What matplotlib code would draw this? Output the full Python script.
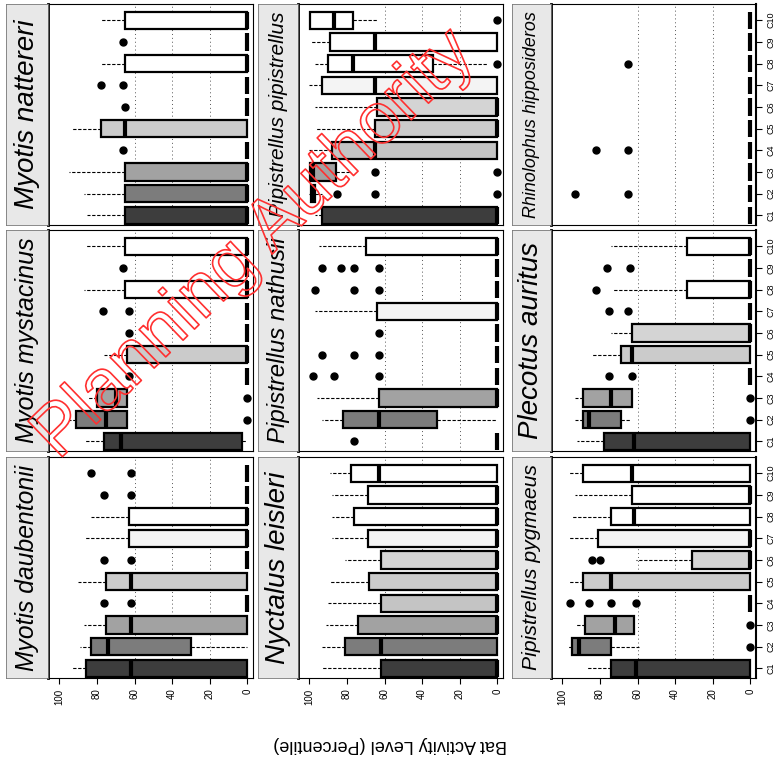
#!/usr/bin/env python3
"""
Bat Activity Level (Percentile) - boxplots per art, 3x3 paneler.
Sidan är vriden 90 grader i originalet, så lådorna ritas liggande
med 100 till vänster och 0 till höger.
"""

import matplotlib
matplotlib.use("Agg")
import matplotlib.pyplot as plt
from matplotlib import patheffects


# DATA

CATEGORIES = ["C1", "C2", "C3", "C4", "C5", "C6", "C7", "C8", "C9", "C10"]

SPECIES = ["Myotis daubentonii", "Myotis mystacinus", "Myotis nattereri",
           "Nyctalus leisleri", "Pipistrellus nathusii", "Pipistrellus pipistrellus",
           "Pipistrellus pygmaeus", "Plecotus auritus", "Rhinolophus hipposideros"]

# Myotis daubentonii
MDAU_Q3 = [86, 83, 75, 0, 75, 0, 63, 63, 0, 0]
MDAU_MED = [62, 74, 62, 0, 62, 0, 0, 0, 0, 0]
MDAU_Q1 = [0, 30, 0, 0, 0, 0, 0, 0, 0, 0]
MDAU_HI = [94, 89, 87, 0, 90, 0, 87, 83, 0, 0]
MDAU_LO = [0, 0, 0, 0, 0, 0, 0, 0, 0, 0]
MDAU_OUT = [[], [], [], [76, 62], [], [76, 62], [], [], [76, 62], [83, 62]]

# Myotis mystacinus
MMYS_Q3 = [76, 91, 80, 0, 64, 0, 0, 65, 0, 65]
MMYS_MED = [67, 75, 70, 0, 0, 0, 0, 0, 0, 0]
MMYS_Q1 = [3, 64, 64, 0, 0, 0, 0, 0, 0, 0]
MMYS_HI = [87, 95, 85, 0, 76, 0, 0, 87, 0, 86]
MMYS_LO = [0, 64, 64, 0, 0, 0, 0, 0, 0, 0]
MMYS_OUT = [[], [0], [0], [63], [], [63], [77, 63], [], [66], []]

# Myotis nattereri
MNAT_Q3 = [65, 65, 65, 0, 78, 0, 0, 65, 0, 65]
MNAT_MED = [0, 0, 0, 0, 65, 0, 0, 0, 0, 0]
MNAT_Q1 = [0, 0, 0, 0, 0, 0, 0, 0, 0, 0]
MNAT_HI = [85, 87, 95, 0, 94, 0, 0, 78, 0, 78]
MNAT_LO = [0, 0, 0, 0, 0, 0, 0, 0, 0, 0]
MNAT_OUT = [[], [], [], [66], [], [65], [78, 66], [], [66], []]

# Nyctalus leisleri
NLEI_Q3 = [62, 81, 74, 62, 68, 62, 69, 76, 69, 78]
NLEI_MED = [0, 62, 0, 0, 0, 0, 0, 0, 0, 63]
NLEI_Q1 = [0, 0, 0, 0, 0, 0, 0, 0, 0, 0]
NLEI_HI = [93, 93, 91, 90, 89, 81, 88, 88, 88, 89]
NLEI_LO = [0, 0, 0, 0, 0, 0, 0, 0, 0, 0]
NLEI_OUT = [[], [], [], [], [], [], [], [], [], []]

# Pipistrellus nathusii
PNAT_Q3 = [0, 82, 63, 0, 0, 0, 64, 0, 0, 70]
PNAT_MED = [0, 63, 0, 0, 0, 0, 0, 0, 0, 0]
PNAT_Q1 = [0, 32, 0, 0, 0, 0, 0, 0, 0, 0]
PNAT_HI = [0, 93, 96, 0, 0, 0, 97, 0, 0, 95]
PNAT_LO = [0, 0, 0, 0, 0, 0, 0, 0, 0, 0]
PNAT_OUT = [[76], [], [], [98, 87, 63], [93, 76, 63], [63], [],
            [97, 76, 63], [93, 83, 76, 63], []]

# Pipistrellus pipistrellus
PPIP_Q3 = [93, 99, 99.5, 88, 65, 64, 93, 90, 89, 99.5]
PPIP_MED = [0, 98, 98, 65, 0, 0, 65, 77, 65, 87]
PPIP_Q1 = [0, 97, 86, 0, 0, 0, 0, 34, 0, 77]
PPIP_HI = [97, 100, 100, 100, 97, 97, 100, 97, 99, 100]
PPIP_LO = [0, 93, 78, 0, 0, 0, 0, 5, 0, 64]
PPIP_OUT = [[], [85, 65, 0], [65, 0], [], [], [], [], [0], [], [0]]

# Pipistrellus pygmaeus
PPYG_Q3 = [74, 95, 88, 0, 89, 31, 81, 74, 63, 89]
PPYG_MED = [61, 91, 72, 0, 74, 0, 0, 62, 0, 63]
PPYG_Q1 = [0, 74, 62, 0, 0, 0, 0, 0, 0, 0]
PPYG_HI = [87, 97, 93, 0, 97, 61, 97, 95, 93, 97]
PPYG_LO = [0, 59, 62, 0, 0, 0, 0, 0, 0, 0]
PPYG_OUT = [[], [0], [0], [96, 86, 74, 61], [], [84, 80], [], [], [], []]

# Plecotus auritus
PAUR_Q3 = [78, 89, 89, 0, 69, 63, 0, 33.5, 0, 33.5]
PAUR_MED = [62, 86, 74, 0, 63, 0, 0, 0, 0, 0]
PAUR_Q1 = [0, 69, 63, 0, 0, 0, 0, 0, 0, 0]
PAUR_HI = [92, 93, 93, 0, 84, 74, 0, 73, 0, 74]
PAUR_LO = [0, 64, 63, 0, 0, 0, 0, 0, 0, 0]
PAUR_OUT = [[], [0], [0], [75, 63], [], [], [75, 65], [82], [76, 64], []]

# Rhinolophus hipposideros
RHIP_Q3 = [0, 0, 0, 0, 0, 0, 0, 0, 0, 0]
RHIP_MED = [0, 0, 0, 0, 0, 0, 0, 0, 0, 0]
RHIP_Q1 = [0, 0, 0, 0, 0, 0, 0, 0, 0, 0]
RHIP_HI = [0, 0, 0, 0, 0, 0, 0, 0, 0, 0]
RHIP_LO = [0, 0, 0, 0, 0, 0, 0, 0, 0, 0]
RHIP_OUT = [[], [93, 65], [], [82, 65], [], [], [], [65], [], []]

VALUE_TICKS = [0, 20, 40, 60, 80, 100]


# STIL OCH LAYOUT

FILLS = ["#3d3d3d", "#7c7c7c", "#a2a2a2", "#c4c4c4", "#cbcbcb", "#d4d4d4",
         "#f4f4f4", "white", "white", "white"]

FIG_W, FIG_H = 776, 763
PANEL_LEFT = [48, 298, 551]
STRIP_LEFT = [6, 258, 512]
PANEL_W = 205
ROW_TOP = [4, 230, 457]
ROW_H = 221

SANS = ["Liberation Sans", "DejaVu Sans"]
NARROW = ["Liberation Sans Narrow", "Liberation Sans", "DejaVu Sans"]


def px_rect(left, top, w, h):
    """Pixelrektangel (från övre vänstra hörnet) till figurkoordinater."""
    return [left / FIG_W, 1 - (top + h) / FIG_H, w / FIG_W, h / FIG_H]


def box_stats(q3, med, q1, hi, lo, out):
    return [dict(q1=q1[k], med=med[k], q3=q3[k], whislo=lo[k],
                 whishi=hi[k], fliers=out[k]) for k in range(len(q3))]


def main():
    panels = [
        (MDAU_Q3, MDAU_MED, MDAU_Q1, MDAU_HI, MDAU_LO, MDAU_OUT),
        (MMYS_Q3, MMYS_MED, MMYS_Q1, MMYS_HI, MMYS_LO, MMYS_OUT),
        (MNAT_Q3, MNAT_MED, MNAT_Q1, MNAT_HI, MNAT_LO, MNAT_OUT),
        (NLEI_Q3, NLEI_MED, NLEI_Q1, NLEI_HI, NLEI_LO, NLEI_OUT),
        (PNAT_Q3, PNAT_MED, PNAT_Q1, PNAT_HI, PNAT_LO, PNAT_OUT),
        (PPIP_Q3, PPIP_MED, PPIP_Q1, PPIP_HI, PPIP_LO, PPIP_OUT),
        (PPYG_Q3, PPYG_MED, PPYG_Q1, PPYG_HI, PPYG_LO, PPYG_OUT),
        (PAUR_Q3, PAUR_MED, PAUR_Q1, PAUR_HI, PAUR_LO, PAUR_OUT),
        (RHIP_Q3, RHIP_MED, RHIP_Q1, RHIP_HI, RHIP_LO, RHIP_OUT),
    ]

    fig = plt.figure(figsize=(FIG_W / 100, FIG_H / 100), dpi=100)
    positions = list(range(1, len(CATEGORIES) + 1))
    name_texts = []

    for i, (name, arrays) in enumerate(zip(SPECIES, panels)):
        # originalets rad -> bildens kolumn, originalets kolumn -> bildens rad
        col = i // 3
        row = 2 - i % 3

        ax = fig.add_axes(px_rect(PANEL_LEFT[col], ROW_TOP[row], PANEL_W, ROW_H))
        for v in (20, 40, 60):
            ax.axvline(v, color="#555555", lw=0.7, ls=(0, (1, 3)), zorder=0)

        bp = ax.bxp(box_stats(*arrays), positions=positions, widths=0.8,
                    orientation="horizontal", patch_artist=True, showcaps=False,
                    boxprops=dict(edgecolor="black", linewidth=1.6),
                    medianprops=dict(color="black", linewidth=3.0),
                    whiskerprops=dict(color="black", linewidth=0.8,
                                      linestyle=(0, (3, 1.5))),
                    flierprops=dict(marker="o", markerfacecolor="black",
                                    markeredgecolor="black", markersize=5))
        for patch, fc in zip(bp["boxes"], FILLS):
            patch.set_facecolor(fc)

        ax.set_xlim(106, -3)
        ax.set_ylim(0.55, 10.75)
        for side in ("top", "bottom", "right"):
            ax.spines[side].set_linewidth(0.8)
        ax.spines["left"].set_linewidth(2.0)

        if row == 2:
            ax.set_xticks(VALUE_TICKS)
            ax.set_xticklabels([str(t) for t in VALUE_TICKS], rotation=90,
                               fontsize=7, family=SANS)
            ax.tick_params(axis="x", length=4, width=0.8)
        else:
            ax.tick_params(axis="x", bottom=False, labelbottom=False)

        if col == 2:
            ax.yaxis.tick_right()
            ax.set_yticks(positions)
            ax.set_yticklabels(CATEGORIES, rotation=90, fontsize=6.5,
                               family=SANS, va="center")
            ax.tick_params(axis="y", length=4, width=0.8)
            ax.spines["right"].set_linewidth(1.5)
        else:
            ax.tick_params(axis="y", left=False, labelleft=False,
                           right=False, labelright=False)

        # namnremsa till vänster om panelen
        sw = PANEL_LEFT[col] - STRIP_LEFT[col]
        sax = fig.add_axes(px_rect(STRIP_LEFT[col], ROW_TOP[row], sw, ROW_H))
        sax.set_facecolor("#e8e8e8")
        sax.set_xticks([])
        sax.set_yticks([])
        for s in sax.spines.values():
            s.set_linewidth(0.6)
            s.set_color("#777777")
        t = sax.text(0.5, 0.5, name, rotation=90, ha="center", va="center",
                     fontsize=20, style="italic", family=NARROW,
                     transform=sax.transAxes)
        name_texts.append(t)

    fig.text(390 / FIG_W, 1 - 745 / FIG_H, "Bat Activity Level (Percentile)",
             rotation=180, ha="center", va="center", fontsize=13, family=SANS)

    # vattenstämpel i originalet
    fig.text(255 / FIG_W, 1 - 245 / FIG_H, "Planning Authority", rotation=44,
             ha="center", va="center", fontsize=52, family=SANS,
             color=(1, 1, 1, 0), zorder=10,
             path_effects=[patheffects.Stroke(linewidth=1.2, foreground="#ff3030")])

    # krymp långa artnamn så de ryms i remsan
    fig.canvas.draw()
    for t in name_texts:
        h = t.get_window_extent().height
        if h > 205:
            t.set_fontsize(t.get_fontsize() * 205 / h)

    fig.savefig("out.png", dpi=100)


if __name__ == "__main__":
    main()
